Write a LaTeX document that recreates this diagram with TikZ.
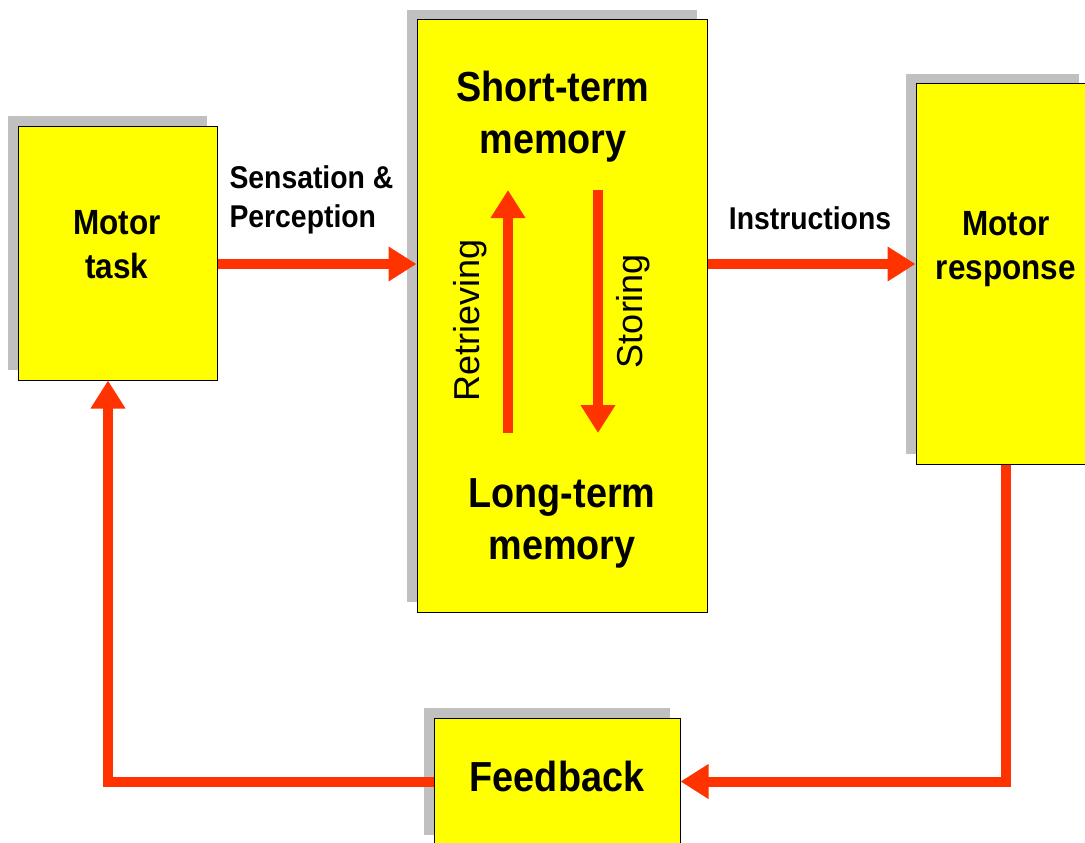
\documentclass[tikz,border=0pt]{standalone}
\usepackage{fontspec}
\setsansfont{Liberation Sans}
\newfontfamily\narrowsans[FakeStretch=0.9]{Liberation Sans}
\usetikzlibrary{arrows.meta,shadows}
\definecolor{flowred}{HTML}{FF3300}
\definecolor{boxyellow}{HTML}{FFFF00}
\definecolor{shadowgray}{HTML}{C0C0C0}
\begin{document}
\begin{tikzpicture}[x=1pt,y=-1pt,
  box/.style={draw=black,line width=1pt,fill=boxyellow,inner sep=0pt,
    drop shadow={shadow xshift=-10pt,shadow yshift=10pt,opacity=1,fill=shadowgray}},
  flow/.style={draw=flowred,line width=10pt,-{Triangle[length=28pt,width=33pt]}},
  big/.style={font=\narrowsans\bfseries\fontsize{42}{52}\selectfont,align=center},
  mid/.style={font=\narrowsans\bfseries\fontsize{35}{44}\selectfont,align=center},
  small/.style={font=\narrowsans\bfseries\fontsize{31.5}{39}\selectfont},
  side/.style={font=\sffamily\fontsize{36}{40}\selectfont,rotate=90}]
\useasboundingbox (0,0) rectangle (1085,843);

\node[box,minimum width=199pt,minimum height=254pt] (task) at (117.5,253) {};
\node[box,minimum width=290pt,minimum height=592pt] (memory) at (562,316) {};
\node[box,minimum width=173pt,minimum height=380pt] (response) at (1002.5,274) {};
\node[box,minimum width=246pt,minimum height=127pt] (feedback) at (557,781.5) {};

\node[mid] (tasktext) at (117,245) {Motor\\task};
\node[mid] (resptext) at (1006,249) {Motor\\response};
\node[big] (stm) at (553,117) {Short-term\\memory};
\node[big] (ltm) at (562,523) {Long-term\\memory};
\node[big] (fbtext) at (557,776) {Feedback};
\node[small,align=left,anchor=west] (sense) at (226,200) {Sensation \&\\Perception};
\node[small] (instr) at (810,218) {Instructions};
\node[side] (retr) at (470,320) {Retrieving};
\node[side] (stor) at (633,311) {Storing};

\coordinate (lvl) at (0,264);
\coordinate (retlow) at (508,433);
\coordinate (rethigh) at (508,190);
\coordinate (storhigh) at (598,190);
\coordinate (storlow) at (598,433);

\draw[flow] (task.east |- lvl) -- (memory.west |- lvl);
\draw[flow] (memory.east |- lvl) -- (response.west |- lvl);
\draw[flow] ([xshift=3.5pt]response.south) |- (feedback.east);
\draw[flow] (feedback.west) -| ([xshift=-9.5pt]task.south);
\draw[flow] (retlow) -- (rethigh);
\draw[flow] (storhigh) -- (storlow);
\end{tikzpicture}
\end{document}
